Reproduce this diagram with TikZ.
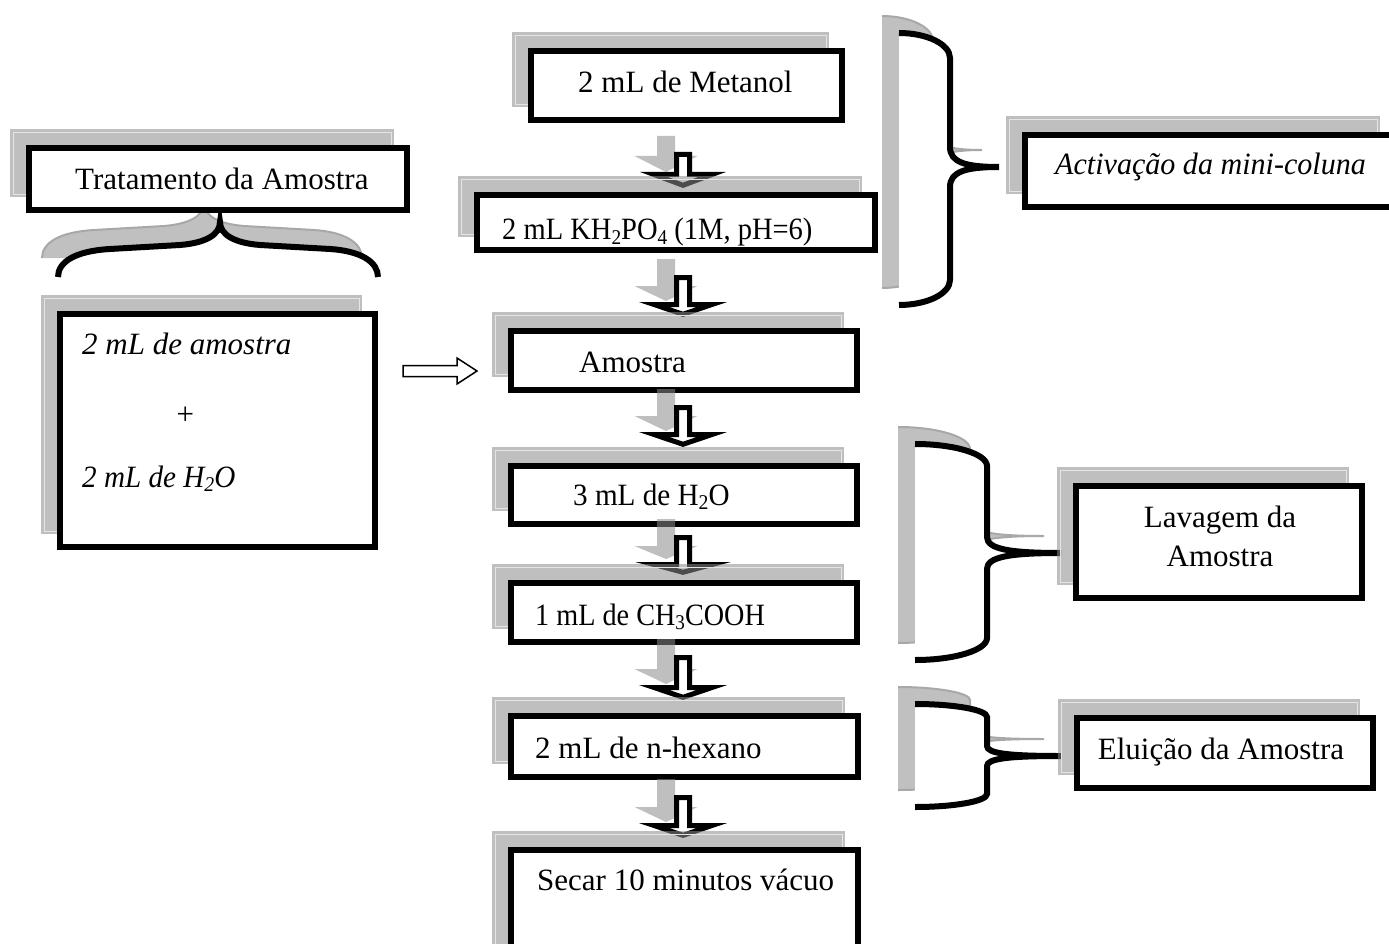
\documentclass[tikz,border=0pt]{standalone}
\usepackage{fontspec}
\usepackage{graphicx}
\setmainfont{Liberation Serif}
\definecolor{shc}{gray}{0.545}
\definecolor{shb}{gray}{0.753}
\definecolor{shr}{gray}{0.66}
\definecolor{shl}{gray}{0.90}
\newcommand{\fsz}{\fontsize{31}{37}\selectfont}
\newcommand{\subs}[1]{\raisebox{-0.13em}{\fontsize{21}{21}\selectfont #1}}
\newcommand{\narrow}[2]{\scalebox{#1}[1]{#2}}
% box with shadow: name, outer x1, y1, x2, y2
\newcommand{\shbox}[5]{%
  \fill[shfill] (#2-16,#3-16) rectangle (#4-16,#5-16);
  \draw[shline] (#2-13,#3-13) rectangle (#4-19,#5-19);
  \node[box, minimum width={#4-#2-6}, minimum height={#5-#3-6}] (#1) at ({(#2+#4)/2},{(#3+#5)/2}) {};
}
% down block arrow: x centre, outer top, head base, tip
\newcommand{\dnarrow}[4]{%
  \fill[shfill] (#1-17-9,#2-16) -- (#1-17-9,#3-16) -- (#1-17-31.5,#3-16) -- (#1-17,#4-16)
     -- (#1-17+31.5,#3-16) -- (#1-17+9,#3-16) -- (#1-17+9,#2-16) -- cycle;
  \draw[barrow] (#1-6.5,#2+2.5) -- (#1-6.5,#3+2.5) -- (#1-29,#3+2.5) -- (#1,#4-2.7)
     -- (#1+29,#3+2.5) -- (#1+6.5,#3+2.5) -- (#1+6.5,#2+2.5) -- cycle;
}
% vertical brace path: x0, xv, xt, yt, ym, yb, r1, r2
\newcommand{\vbrpath}[8]{(#1,#4) .. controls ({#1+0.55*(#2-#1)},#4) and (#2,{#4+0.45*#7}) .. (#2,{#4+#7})
 -- (#2,{#5-#8}) .. controls (#2,{#5-0.25*#8}) and ({#2+0.3*(#3-#2)},#5) .. (#3,#5)
 .. controls ({#2+0.3*(#3-#2)},#5) and (#2,{#5+0.25*#8}) .. (#2,{#5+#8})
 -- (#2,{#6-#7}) .. controls (#2,{#6-0.45*#7}) and ({#1+0.55*(#2-#1)},#6) .. (#1,#6)}
\newcommand{\vbrace}[8]{%
  \fill[brcsh, shift={(-17,-17)}] \vbrpath{#1}{#2}{#3}{#4}{#5}{#6}{#7}{#8} -- cycle;
  \draw[brcrim, shift={(-17,-17)}] \vbrpath{#1}{#2}{#3}{#4}{#5}{#6}{#7}{#8};
  \fill[white] \vbrpath{#1}{#2}{#3}{#4}{#5}{#6}{#7}{#8} -- cycle;
  \draw[brc] \vbrpath{#1}{#2}{#3}{#4}{#5}{#6}{#7}{#8};
}
\newcommand{\hbrpath}{(58,277) .. controls (58,262) and (75,251) .. (110,249) -- (180,245)
 .. controls (205,243) and (220,235) .. (220,222) .. controls (220,235) and (235,243) .. (260,245)
 -- (330,249) .. controls (361,251) and (378,262) .. (378,277)}
\begin{document}
\begin{tikzpicture}[x=1pt,y=-1pt,
  box/.style={draw=black, line width=6pt, fill=white, inner sep=0pt, rectangle},
  shfill/.style={fill=shc, fill opacity=0.55},
  shline/.style={draw=shl, line width=0.8pt},
  barrow/.style={draw=black, line width=5pt, fill=white, line join=miter},
  harrow/.style={draw=black, line width=1.5pt, fill=white, line join=miter},
  brc/.style={draw=black, line width=6pt},
  brcsh/.style={fill=shb},
  brcrim/.style={draw=shr, line width=2pt},
  txt/.style={font=\fsz, inner sep=0pt, anchor=base west},
  itxt/.style={font=\fsz\itshape, inner sep=0pt, anchor=base west}]
\useasboundingbox (0,0) rectangle (1389,944);
\clip (0,0) rectangle (1389,944);

% ---- left: sample treatment
\fill[brcsh, shift={(-16,-19)}] \hbrpath -- cycle;
\draw[brcrim, shift={(-16,-19)}] \hbrpath;
\fill[white] \hbrpath -- cycle;
\draw[brc] \hbrpath;
\shbox{trat}{26}{145}{410}{213}
\node[txt] (tratT) at (75,190) {Tratamento da Amostra};
\shbox{samp}{57}{311}{378}{550}
\node[itxt] (samp1) at (82,354) {2 mL de amostra};
\node[font=\fsz\itshape, inner sep=0pt] (samp2) at (185,416) {+};
\node[itxt] (samp3) at (82,487) {\narrow{0.94}{2 mL de H\subs{2}O}};

% hollow arrow to the column
\coordinate (ha1) at (403,371);
\coordinate (ha2) at (477,371);
\draw[harrow] ([shift={(0,-5.5)}]ha1) -- ++(54,0) -- ++(0,-7.5) -- (ha2) -- ++(-20,13)
   -- ++(0,-7.5) -- ([shift={(0,5.5)}]ha1) -- cycle;

% ---- centre column
\shbox{met}{528}{48}{845}{123}
\node[txt] (metT) at (578,93) {2 mL de Metanol};
\dnarrow{683}{152}{172}{188}
\shbox{kh}{474}{192}{878}{253}
\node[txt] (khT) at (502,240) {\narrow{0.92}{2 mL KH\subs{2}PO\subs{4} (1M, pH=6)}};
\dnarrow{683}{275}{302}{317}
\shbox{amo}{508}{328}{860}{393}
\node[txt] (amoT) at (579,372) {Amostra};
\dnarrow{683}{405}{432}{447}
\shbox{h2o}{508}{463}{860}{527}
\node[txt] (h2oT) at (573,505) {\narrow{0.94}{3 mL de H\subs{2}O}};
\dnarrow{683}{535}{562}{575}
\shbox{ch3}{508}{580}{860}{645}
\node[txt] (ch3T) at (535,625) {\narrow{0.91}{1 mL de CH\subs{3}COOH}};
\dnarrow{683}{655}{685}{700}
\shbox{hex}{508}{713}{861}{780}
\node[txt] (hexT) at (535,758) {2 mL de n-hexano};
\dnarrow{683}{795}{823}{838}
\shbox{sec}{508}{847}{861}{965}
\node[txt] (secT) at (537,890) {Secar 10 minutos vácuo};

% ---- right: braces and labels
\vbrace{899}{950}{999}{33}{167}{305}{25}{20}
\shbox{act}{1022}{132}{1396}{210}
\node[itxt] (actT) at (1055,175) {\narrow{0.97}{Activação da mini-coluna}};

\vbrace{915}{987}{1061}{444}{553}{660}{22}{16}
\shbox{lav}{1073}{483}{1365}{601}
\node[font=\fsz, inner sep=0pt, anchor=base] (lavT1) at (1220,527) {Lavagem da};
\node[font=\fsz, inner sep=0pt, anchor=base] (lavT2) at (1220,566) {Amostra};

\vbrace{915}{987}{1061}{704}{756}{807}{13}{10}
\shbox{elu}{1074}{715}{1376}{791}
\node[font=\fsz, inner sep=0pt, anchor=base] (eluT) at (1221,759) {Eluição da Amostra};
\end{tikzpicture}
\end{document}
